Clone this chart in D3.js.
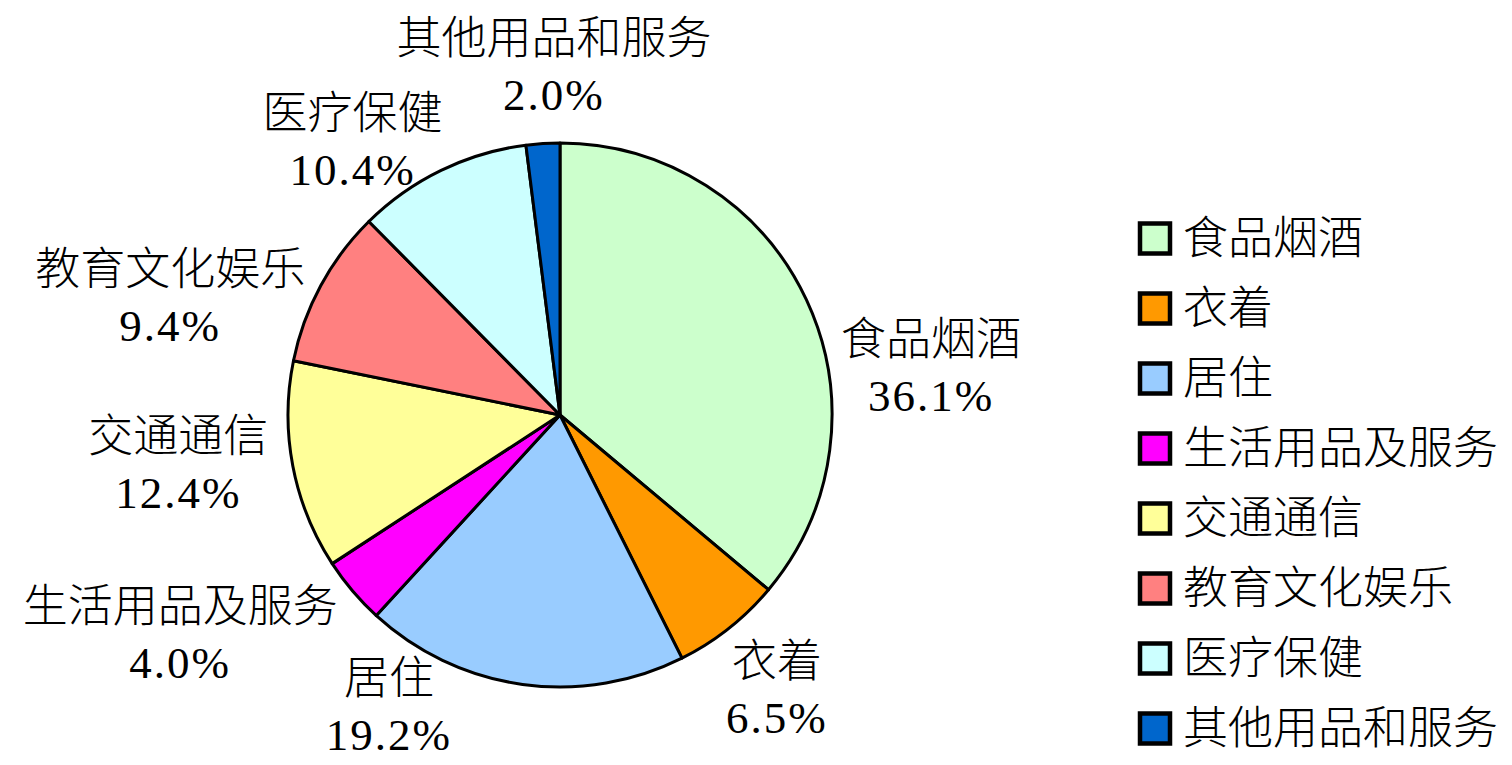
<!DOCTYPE html>
<html><head><meta charset="utf-8">
<script src="https://cdn.jsdelivr.net/npm/d3@7"></script>
<style>
html,body{margin:0;padding:0;background:#fff;}
text{font-family:"Liberation Serif","Noto Sans CJK SC",serif;fill:#000;font-weight:300;}
</style></head>
<body><svg id="c" width="1512" height="765"></svg>
<script>
const categories = ["食品烟酒","衣着","居住","生活用品及服务","交通通信","教育文化娱乐","医疗保健","其他用品和服务"];
const values = [36.1, 6.5, 19.2, 4.0, 12.4, 9.4, 10.4, 2.0];
const colors = ["#CCFFCC","#FF9900","#99CCFF","#FF00FF","#FFFF99","#FF8080","#CCFFFF","#0066CC"];
// label layout (polar, relative to pie centre): angle in degrees clockwise from top, distance in px
const labelAngle = [82.8, 141.7, 210.4, 239.9, 262.5, 286.7, 322.8, 359.0];
const labelDist  = [374, 350, 338, 439, 385, 407, 343, 348];

const svg = d3.select("#c");
const cx = 560, cy = 415, R = 272;
const fs = 45;

const pie = d3.pie().sort(null).value(d => d)(values);
const arc = d3.arc().innerRadius(0).outerRadius(R);
const g = svg.append("g").attr("transform", `translate(${cx},${cy})`);
g.selectAll("path").data(pie).join("path")
  .attr("d", arc)
  .attr("fill", (d,i) => colors[i])
  .attr("stroke", "#000").attr("stroke-width", 3).attr("stroke-linejoin","round");

const fmt = d3.format(".1f");
const lab = g.selectAll("g.lab").data(pie).join("g").attr("class","lab")
  .attr("transform", (d,i) => {
    const a = labelAngle[i] * Math.PI/180;
    return `translate(${labelDist[i]*Math.sin(a)},${-labelDist[i]*Math.cos(a)})`;
  });
lab.append("text").attr("text-anchor","middle").attr("dominant-baseline","central")
  .attr("y",-28).attr("font-size",fs).text((d,i)=>categories[i]);
lab.append("text").attr("text-anchor","middle").attr("dominant-baseline","central")
  .attr("y",28).attr("font-size",fs).attr("letter-spacing",2).text((d,i)=>fmt(values[i])+"%");

// legend
const ly0 = 238.5, lstep = 70;
const leg = svg.append("g").selectAll("g").data(categories).join("g")
  .attr("transform",(d,i)=>`translate(1140,${ly0 + i*lstep})`);
leg.append("rect").attr("x",0).attr("y",-15).attr("width",30).attr("height",30)
  .attr("fill",(d,i)=>colors[i]).attr("stroke","#000").attr("stroke-width",4.5);
leg.append("text").attr("x",43).attr("y",0).attr("dominant-baseline","central")
  .attr("font-size",fs).text(d=>d);
</script></body></html>
